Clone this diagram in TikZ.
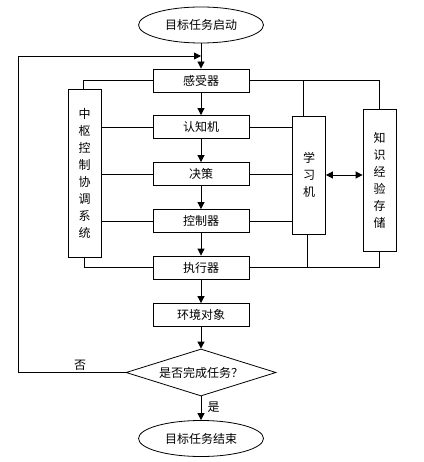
\documentclass[tikz,border=0pt]{standalone}
\usepackage{fontspec}
\newfontfamily\cjk{Noto Sans CJK SC}
\usetikzlibrary{shapes.geometric,arrows.meta}
\begin{document}
\begin{tikzpicture}[x=1pt,y=-1pt,
  every node/.style={font=\cjk\fontsize{12}{17}\selectfont},
  stepbox/.style={draw, line width=0.8pt, minimum width=96pt, minimum height=23pt, inner sep=0pt},
  vbox/.style={draw, line width=0.8pt, minimum width=33pt, inner sep=0pt, align=center, text width=14pt},
  term/.style={draw, ellipse, line width=0.8pt, minimum width=125pt, minimum height=36pt, inner sep=0pt},
  decide/.style={draw, diamond, line width=0.8pt, minimum width=150pt, minimum height=47pt, aspect=3.19, inner sep=0pt},
  ln/.style={line width=0.8pt},
  arr/.style={line width=0.8pt, -{Triangle[length=7pt,width=7pt]}},
  darr/.style={line width=0.8pt, {Triangle[length=7pt,width=7pt]}-{Triangle[length=7pt,width=7pt]}}
]
\useasboundingbox (0,0) rectangle (423,462);
\node[term] (start) at (201,25) {目标任务启动};
\node[stepbox] (s1) at (201,80.5) {感受器};
\node[stepbox] (s2) at (201,127) {认知机};
\node[stepbox] (s3) at (201,174) {决策};
\node[stepbox] (s4) at (201,221) {控制器};
\node[stepbox] (s5) at (201,267.5) {执行器};
\node[stepbox] (env) at (201,315) {环境对象};
\node[decide] (dec) at (201,372.5) {是否完成任务？};
\node[term] (stop) at (201,438.5) {目标任务结束};
\node[vbox, minimum height=168pt] (cen) at (84.5,173) {中\\枢\\控\\制\\协\\调\\系\\统};
\node[vbox, minimum height=118pt] (lrn) at (309,175) {学\\习\\机};
\node[vbox, minimum height=142pt] (kno) at (379.5,180) {知\\识\\经\\验\\存\\储};
\coordinate (lc) at (18,56);
\coordinate (lt) at (201,56);
% main flow
\draw[arr] (start) -- (s1);
\draw[arr] (s1) -- (s2);
\draw[arr] (s2) -- (s3);
\draw[arr] (s3) -- (s4);
\draw[arr] (s4) -- (s5);
\draw[arr] (s5) -- (env);
\draw[arr] (env) -- (dec);
\draw[arr] (dec) -- node[right=3pt, pos=0.45] {是} (stop);
\draw[arr] (dec.west) -- (dec.west -| lc) -- (lc) -- (lt);
\node at (80,365) {否};
% left side
\draw[ln] (s1.west) -| ([xshift=-1.5pt]cen.north);
\draw[ln] (s2.west) -- (s2.west -| cen.east);
\draw[ln] (s3.west) -- (s3.west -| cen.east);
\draw[ln] (s4.west) -- (s4.west -| cen.east);
\draw[ln] (s5.west) -| ([xshift=-0.5pt]cen.south);
% right side
\draw[ln] (s1.east) -| ([xshift=-0.5pt]kno.north);
\draw[ln] ([xshift=-6pt]lrn.north) -- ([xshift=-6pt]lrn.north |- s1.east);
\draw[ln] (s2.east) -- (s2.east -| lrn.west);
\draw[ln] (s3.east) -- (s3.east -| lrn.west);
\draw[ln] (s4.east) -- (s4.east -| lrn.west);
\draw[ln] (s5.east) -| ([xshift=-0.5pt]kno.south);
\draw[ln] ([xshift=-2pt]lrn.south) -- ([xshift=-2pt]lrn.south |- s5.east);
\draw[darr] (lrn.east) -- (lrn.east -| kno.west);
\end{tikzpicture}
\end{document}
